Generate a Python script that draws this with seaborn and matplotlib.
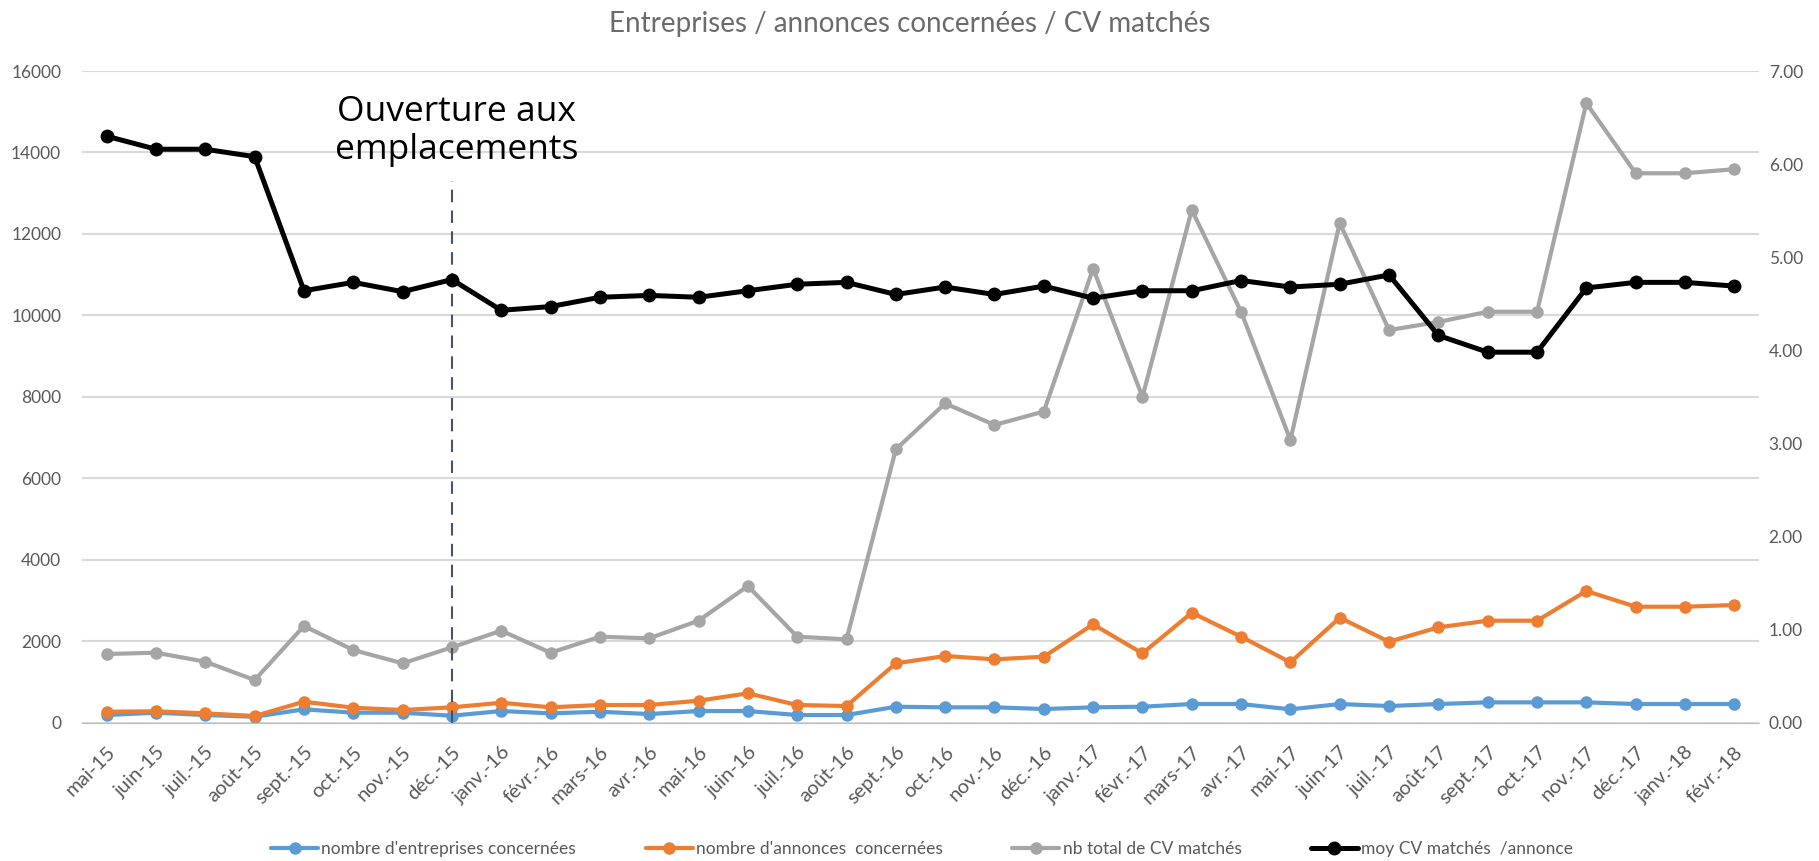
import pandas as pd
import numpy as np
import matplotlib
matplotlib.use("Agg")
import matplotlib.pyplot as plt
import seaborn as sns

months = ['mai-15', 'juin-15', 'juil.-15', 'août-15', 'sept.-15', 'oct.-15', 'nov.-15', 'déc.-15',
          'janv.-16', 'févr.-16', 'mars-16', 'avr.-16', 'mai-16', 'juin-16', 'juil.-16', 'août-16',
          'sept.-16', 'oct.-16', 'nov.-16', 'déc.-16', 'janv.-17', 'févr.-17', 'mars-17', 'avr.-17',
          'mai-17', 'juin-17', 'juil.-17', 'août-17', 'sept.-17', 'oct.-17', 'nov.-17', 'déc.-17',
          'janv.-18', 'févr.-18']
entreprises = [189, 246, 189, 147, 329, 246, 246, 172, 287, 230, 270, 213, 287, 287, 189, 189,
               393, 378, 378, 336, 378, 393, 459, 459, 329, 459, 410, 459, 500, 500, 500, 459, 459, 459]
annonces = [270, 280, 230, 165, 516, 368, 312, 378, 491, 378, 435, 435, 540, 722, 435, 410,
            1458, 1638, 1556, 1621, 2415, 1703, 2701, 2112, 1483, 2578, 1989, 2342, 2505, 2505,
            3234, 2848, 2848, 2890]
cv_total = [1687, 1719, 1498, 1048, 2374, 1785, 1458, 1851, 2259, 1719, 2112, 2072, 2505, 3356,
            2112, 2047, 6712, 7840, 7310, 7640, 11150, 8000, 12590, 10090, 6940, 12270, 9640,
            9840, 10090, 10090, 15210, 13490, 13490, 13590]
moy_cv = [6.30, 6.16, 6.16, 6.08, 4.64, 4.73, 4.63, 4.76, 4.43, 4.47, 4.57, 4.59, 4.57, 4.64,
          4.71, 4.73, 4.60, 4.68, 4.60, 4.69, 4.56, 4.64, 4.64, 4.75, 4.68, 4.71, 4.81, 4.16,
          3.98, 3.98, 4.67, 4.73, 4.73, 4.69]

sns.set_style("white")
plt.rcParams['font.family'] = ['Lato', 'DejaVu Sans']

df = pd.DataFrame({"x": np.arange(len(months)), "ent": entreprises, "ann": annonces,
                   "cv": cv_total, "moy": moy_cv})

txt = "#595959"
fig = plt.figure(figsize=(18.19, 8.61), dpi=100)
ax = fig.add_axes([0.0451, 0.1606, 0.9219, 0.7569])
ax2 = ax.twinx()

kw = dict(marker="o", markersize=9, linewidth=3, markeredgewidth=0)
sns.lineplot(data=df, x="x", y="ent", ax=ax, color="#5B9BD5", label="nombre d'entreprises concernées", **kw)
sns.lineplot(data=df, x="x", y="ann", ax=ax, color="#ED7D31", label="nombre d'annonces  concernées", **kw)
sns.lineplot(data=df, x="x", y="cv", ax=ax, color="#A5A5A5", label="nb total de CV matchés", **kw)
sns.lineplot(data=df, x="x", y="moy", ax=ax2, color="black", label="moy CV matchés  /annonce",
             marker="o", markersize=10, linewidth=3.6, markeredgewidth=0)

# dashed marker line + annotation
ax.plot([7, 7], [0, 13300], linestyle=(0, (6, 4)), color="#44546A", linewidth=1.5)
ax.text(7.1, 14530, "Ouverture aux\nemplacements", ha="center", va="center", fontsize=25.5,
        family=["Open Sans", "DejaVu Sans"], linespacing=1.15, color="black")

ax.set_xlim(-0.5, len(months) - 0.5)
ax.set_ylim(0, 16000)
ax.set_yticks(range(0, 16001, 2000))
ax2.set_ylim(0, 7)
ax2.set_yticks(np.arange(0, 7.01, 1))
ax2.set_yticklabels([f"{v:.2f}" for v in np.arange(0, 7.01, 1)])

ax.set_xticks(df["x"])
ax.set_xticklabels(months, rotation=45, ha="right", rotation_mode="anchor", fontsize=14.5, color=txt)
ax.set_xticks(np.arange(-0.5, len(months), 1), minor=True)
ax.tick_params(axis="x", which="major", length=0, pad=15)
ax.tick_params(axis="x", which="minor", length=6, color="#BFBFBF", width=1, direction="out")
ax.tick_params(axis="y", length=0, pad=15, labelsize=12.5, labelcolor=txt)
ax2.tick_params(axis="y", length=0, pad=7, labelsize=12.5, labelcolor=txt)

ax.yaxis.grid(True, color="#D9D9D9", linewidth=1.5)
ax.set_axisbelow(True)
for a in (ax, ax2):
    for s in ("top", "left", "right"):
        a.spines[s].set_visible(False)
    a.spines["bottom"].set_color("#BFBFBF")
    a.set_xlabel("")
    a.set_ylabel("")

h1, l1 = ax.get_legend_handles_labels()
h2, l2 = ax2.get_legend_handles_labels()
ax.get_legend().remove()
ax2.get_legend().remove()
fig.legend(h1 + h2, l1 + l2, loc="center", bbox_to_anchor=(0.507, 0.014), ncol=4, frameon=False,
           fontsize=12.5, labelcolor=txt, handlelength=2.7, columnspacing=4, handletextpad=0.2)

fig.suptitle("Entreprises / annonces concernées / CV matchés", y=0.972, va="center",
             fontsize=20, color="#6b6b6b")

fig.savefig("out.png", dpi=100)
